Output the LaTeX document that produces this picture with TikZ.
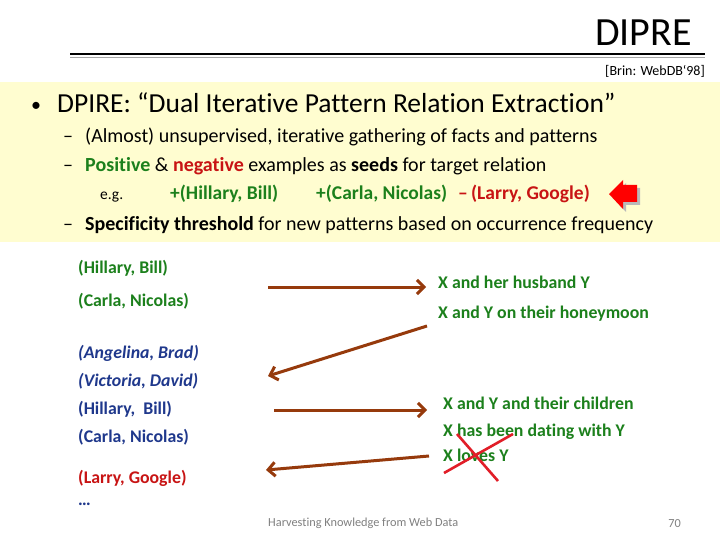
\documentclass[tikz,border=0pt]{standalone}
\usepackage{fontspec}
\setmainfont[Ligatures=NoCommon]{Carlito}
\usetikzlibrary{arrows.meta}
\definecolor{grn}{RGB}{28,128,28}
\definecolor{blu}{RGB}{31,56,140}
\definecolor{redt}{RGB}{200,20,20}
\definecolor{brn}{RGB}{150,58,12}
\definecolor{band}{RGB}{255,253,208}
\definecolor{crossred}{RGB}{225,30,40}
\tikzset{
  txt/.style={inner sep=0pt, anchor=base west},
  rtxt/.style={inner sep=0pt, anchor=base east},
  big/.style={font=\fontsize{40}{40}\selectfont},
  bul/.style={font=\fontsize{27.5}{27.5}\selectfont},
  sub/.style={font=\fontsize{20}{20}\selectfont},
  egb/.style={font=\fontsize{19.5}{19.5}\selectfont\bfseries},
  low/.style={font=\fontsize{17.8}{17.8}\selectfont\bfseries},
  lowi/.style={font=\fontsize{17.8}{17.8}\selectfont\bfseries\itshape},
  flow/.style={draw=brn, line width=3pt, -{Straight Barb[length=7pt,width=14pt,line width=3pt]}},
  xline/.style={draw=crossred, line width=2.6pt},
}
\begin{document}
\begin{tikzpicture}[x=1pt,y=-1pt]
\useasboundingbox[fill=white] (0,0) rectangle (720,540);
% band
\fill[band] (0,82) rectangle (720,242);
% title
\node[rtxt,big] (title) at (692,46) {DIPRE};
\draw[line width=1.1pt] (70,54) -- (705,54);
\draw[line width=1.5pt, gray!70] (70,57.5) -- (705,57.5);
\node[rtxt,font=\fontsize{14}{14}\selectfont] (brin) at (705,76) {[Brin: WebDB‘98]};
% bullets
\node[txt,font=\fontsize{20}{20}\selectfont] (dot) at (31,112) {•};
\node[txt,bul] (l1) at (57,113) {DPIRE: “Dual Iterative Pattern Relation Extraction”};
\node[txt,sub] (d2) at (63,143) {–};
\node[txt,sub] (l2) at (85,143) {(Almost) unsupervised, iterative gathering of facts and patterns};
\node[txt,sub] (d3) at (63,172) {–};
\node[txt,sub] (l3) at (85,172) {\textbf{\color{grn}Positive} \& \textbf{\color{redt}negative} examples as \textbf{seeds} for target relation};
\node[txt,font=\fontsize{15.5}{15.5}\selectfont] (eg) at (100,200) {e.g.};
\node[txt,egb,text=grn] (e1) at (170,200) {+(Hillary, Bill)};
\node[txt,egb,text=grn] (e2) at (316,200) {+(Carla, Nicolas)};
\node[txt,egb,text=redt] (e3) at (458,200) {–\,(Larry, Google)};
\node[txt,sub] (d4) at (63,230) {–};
\node[txt,sub] (l4) at (85,230) {\textbf{Specificity threshold} for new patterns based on occurrence frequency};
% red block arrow with shadow
\fill[gray!55] (612,197) -- (626,183) -- (626,188) -- (640,188) -- (640,205) -- (626,205) -- (626,212) -- cycle;
\fill[red] (609,194) -- (623,180) -- (623,185) -- (637,185) -- (637,202) -- (623,202) -- (623,209) -- cycle;
% lower left
\node[txt,low,text=grn] (p1) at (78,273) {(Hillary, Bill)};
\node[txt,low,text=grn] (p2) at (78,306) {(Carla, Nicolas)};
\node[txt,lowi,text=blu] (p3) at (78,358) {(Angelina, Brad)};
\node[txt,lowi,text=blu] (p4) at (78,386) {(Victoria, David)};
\node[txt,low,text=blu] (p5) at (78,414) {(Hillary,\ \ Bill)};
\node[txt,low,text=blu] (p6) at (78,442) {(Carla, Nicolas)};
\node[txt,low,text=redt] (p7) at (78,483) {(Larry, Google)};
\node[txt,low,text=blu] (p8) at (78,505) {…};
% lower right
\node[txt,low,text=grn] (q1) at (438,288) {X and her husband Y};
\node[txt,low,text=grn] (q2) at (438,318) {X and Y on their honeymoon};
\node[txt,low,text=grn] (q3) at (443,409) {X and Y and their children};
\node[txt,low,text=grn] (q4) at (443,436) {X has been dating with Y};
\node[txt,low,text=grn] (q5) at (443,461) {X loves Y};
% arrows
\coordinate (a1s) at (268,287); \coordinate (a1e) at (426,287);
\coordinate (a2s) at (427,326); \coordinate (a2e) at (268,376);
\coordinate (a3s) at (274,410); \coordinate (a3e) at (427,410);
\coordinate (a4s) at (429,456); \coordinate (a4e) at (266,470);
\draw[flow] (a1s) -- (a1e);
\draw[flow] (a2s) -- (a2e);
\draw[flow] (a3s) -- (a3e);
\draw[flow] (a4s) -- (a4e);
% cross
\coordinate (c1a) at (444,473); \coordinate (c1b) at (513,434);
\coordinate (c2a) at (457,434); \coordinate (c2b) at (498,481);
\draw[xline] (c1a) -- (c1b);
\draw[xline] (c2a) -- (c2b);
% footer
\node[txt,font=\fontsize{12.3}{12.3}\selectfont,text=gray] (foot) at (268,526) {Harvesting Knowledge from Web Data};
\node[rtxt,font=\fontsize{12.3}{12.3}\selectfont,text=gray] (num) at (681,527) {70};
\end{tikzpicture}
\end{document}
